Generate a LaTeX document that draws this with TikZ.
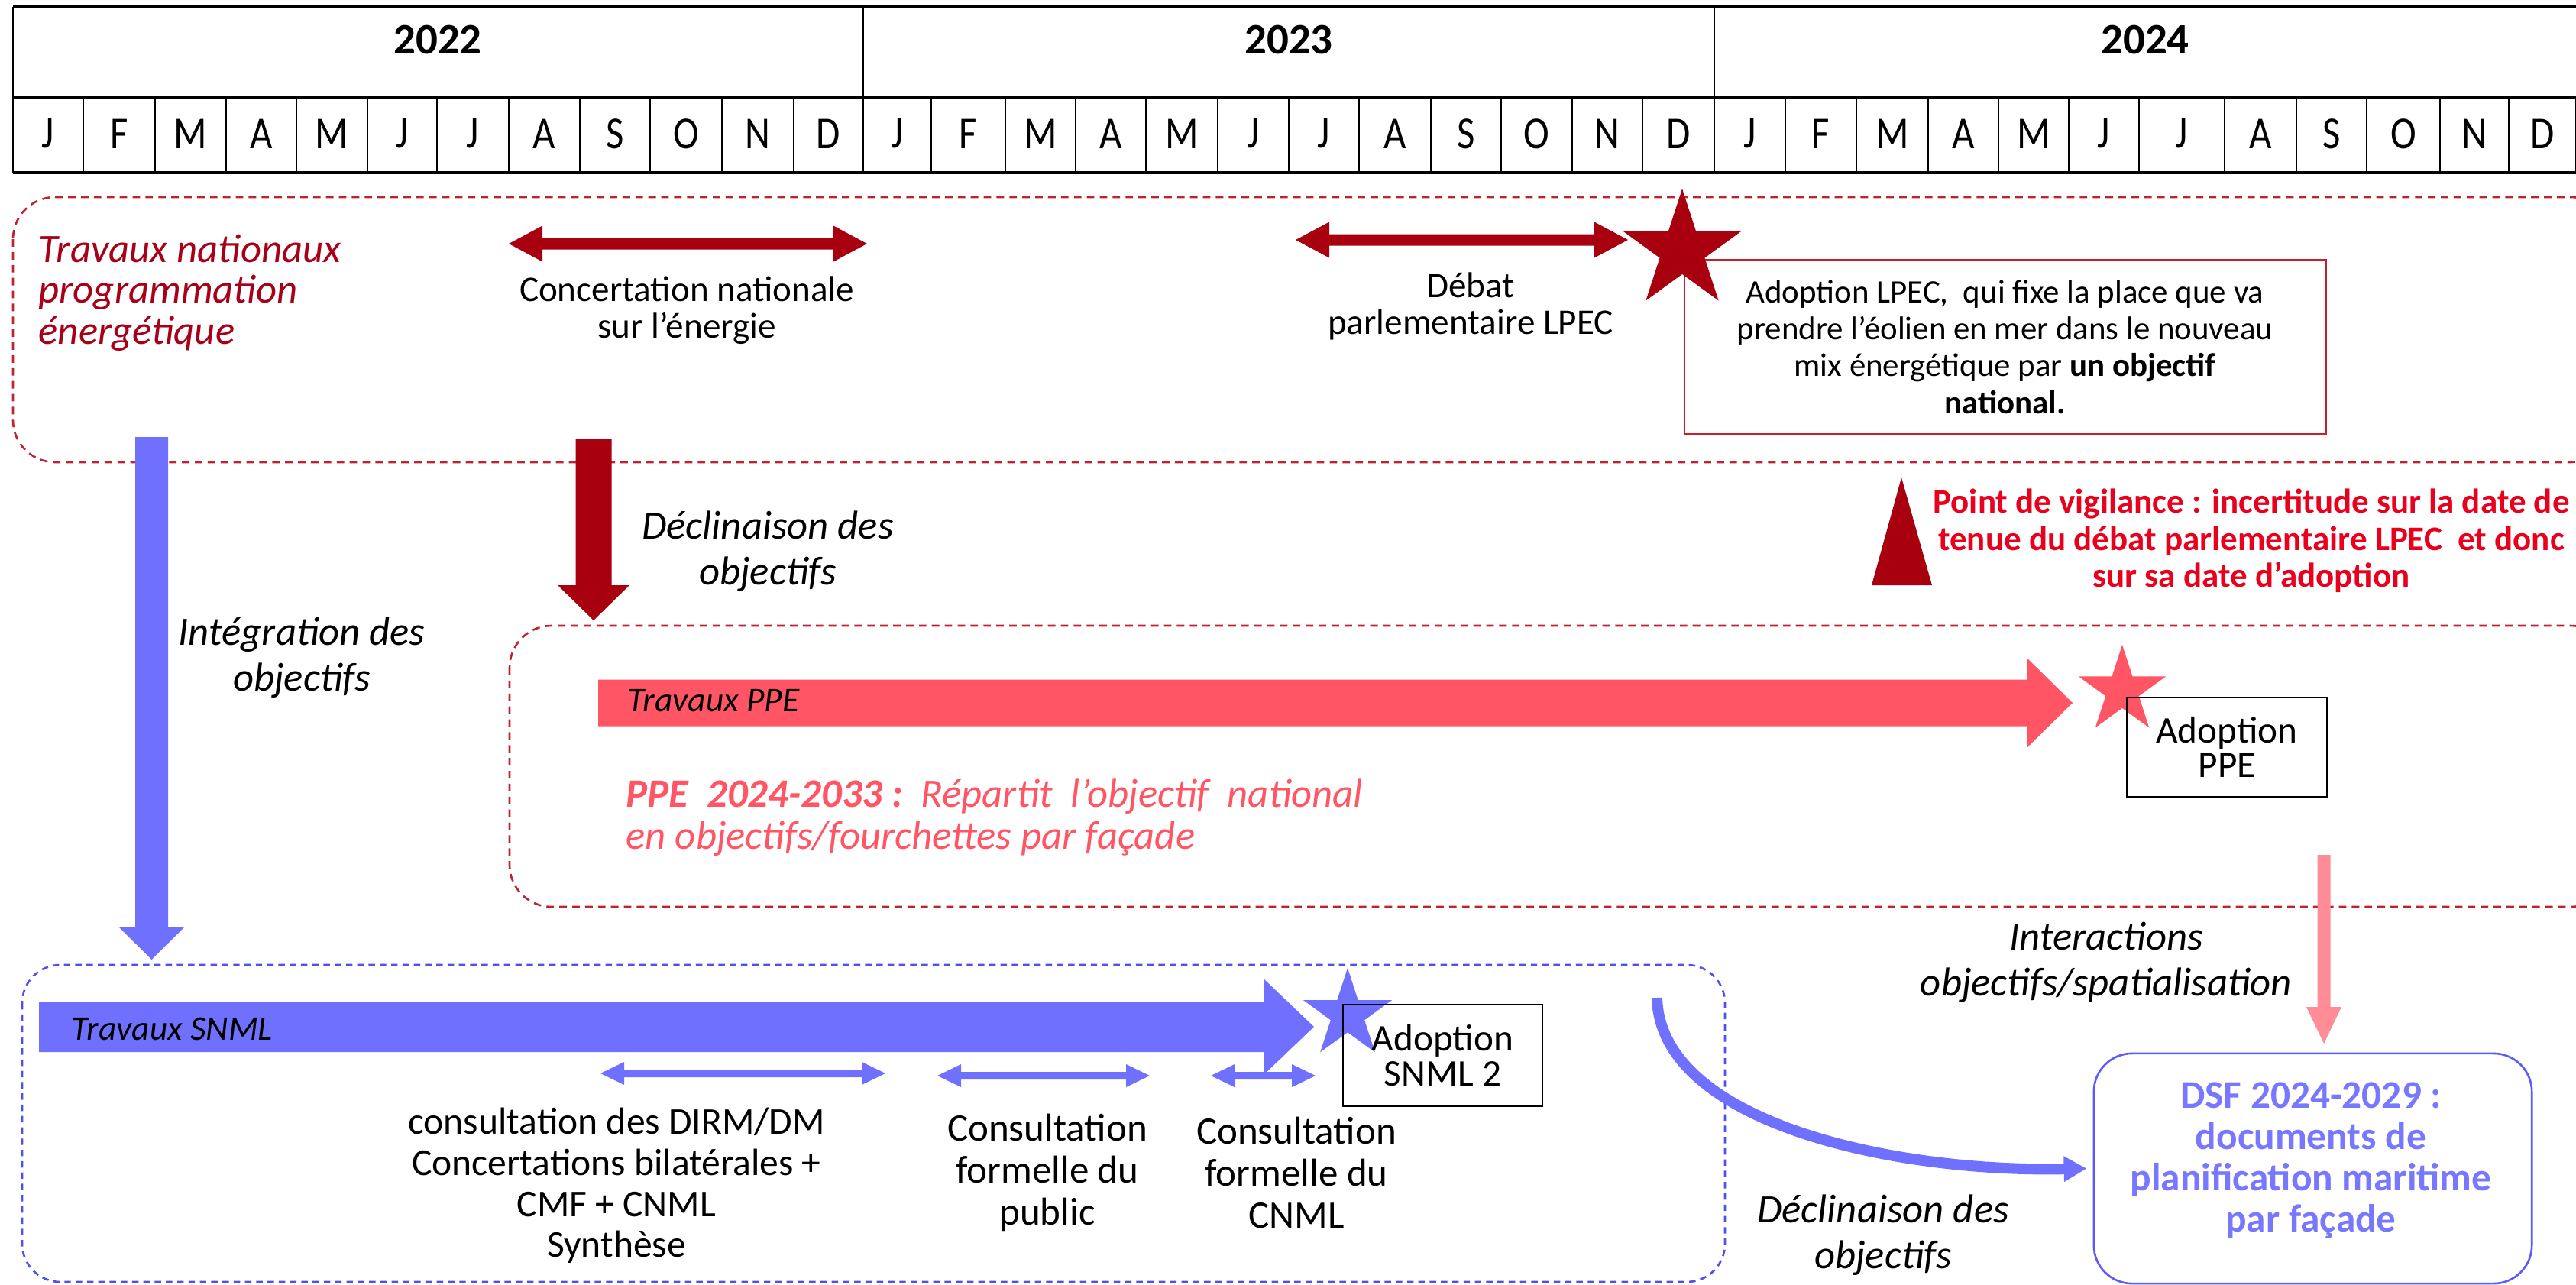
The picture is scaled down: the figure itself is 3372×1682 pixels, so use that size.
\documentclass[tikz,border=0pt]{standalone}
\usepackage{fontspec}
\setmainfont{Carlito}
\newfontfamily\monfont[FakeStretch=0.85]{Carlito}
\usetikzlibrary{arrows.meta}
\definecolor{dkred}{RGB}{168,0,14}
\definecolor{dashred}{RGB}{190,35,50}
\definecolor{titred}{RGB}{168,0,24}
\definecolor{vigred}{RGB}{232,0,28}
\definecolor{lpecred}{RGB}{200,30,40}
\definecolor{salmon}{RGB}{255,85,100}
\definecolor{snblue}{RGB}{112,112,255}
\definecolor{bldash}{RGB}{80,80,240}
\definecolor{pinkc}{RGB}{255,140,150}
\definecolor{dsftxt}{RGB}{120,120,255}
\definecolor{dsfborder}{RGB}{90,90,255}
\newcommand\myfs[2]{\fontsize{#1}{#2}\selectfont}
% horizontal double block arrow: x1 x2 y shafthalf headhalf headlen color
\newcommand\hdarrow[7]{%
 \fill[#7] (#1,#3) -- ({#1+#6},{#3-#5}) -- ({#1+#6},{#3-#4}) -- ({#2-#6},{#3-#4}) -- ({#2-#6},{#3-#5}) -- (#2,#3) -- ({#2-#6},{#3+#5}) -- ({#2-#6},{#3+#4}) -- ({#1+#6},{#3+#4}) -- ({#1+#6},{#3+#5}) -- cycle;}
% right block arrow: x1 headbase tip y shafthalf headhalf color
\newcommand\rarrow[7]{%
 \fill[#7] (#1,{#4-#5}) -- (#2,{#4-#5}) -- (#2,{#4-#6}) -- (#3,#4) -- (#2,{#4+#6}) -- (#2,{#4+#5}) -- (#1,{#4+#5}) -- cycle;}
% down block arrow: x ytop yheadbase ytip shafthalf headhalf color
\newcommand\darrow[7]{%
 \fill[#7] ({#1-#5},#2) -- ({#1+#5},#2) -- ({#1+#5},#3) -- ({#1+#6},#3) -- (#1,#4) -- ({#1-#6},#3) -- ({#1-#5},#3) -- cycle;}
% five-pointed star: cx cy R color
\newcommand\fivestar[4]{%
 \fill[#4] plot[samples at={0,1,...,9}, variable=\k] ({#1+ifthenelse(mod(\k,2)==0,1,0.382)*#3*cos(-90+36*\k)},{#2+ifthenelse(mod(\k,2)==0,1,0.382)*#3*sin(-90+36*\k)}) -- cycle;}
\begin{document}
\begin{tikzpicture}[x=0.01cm,y=-0.01cm,
  hl/.style={line width=1.2pt, draw=black},
  vl/.style={line width=0.8pt, draw=black},
  yr/.style={inner sep=0pt, font=\myfs{16.2}{18}\bfseries},
  mon/.style={inner sep=0pt, font=\monfont\myfs{17}{18}},
  reddash/.style={draw=dashred, line width=0.75pt, dash pattern=on 2.8pt off 2pt},
  bluedash/.style={draw=bldash, line width=0.75pt, dash pattern=on 2.4pt off 1.8pt},
  lbl/.style={inner sep=0pt, align=center, font=\myfs{13.4}{13.6}},
  ital/.style={inner sep=0pt, align=center, font=\myfs{15}{17}\itshape},
  barlbl/.style={inner sep=0pt, anchor=west, font=\myfs{12.9}{14}\itshape},
  abox/.style={draw=black, line width=0.7pt, inner sep=0pt, align=center, font=\myfs{14}{13}},
  cons/.style={inner sep=0pt, align=center, font=\myfs{14.5}{15.6}},
]
\useasboundingbox (0,0) rectangle (3372,1682);
\clip (0,0) rectangle (3372,1682);
\fill[white] (0,0) rectangle (3372,1682);

% ---------- header ----------
\draw[hl] (17,9) -- (3390,9);
\draw[hl] (17,128) -- (3390,128);
\draw[hl] (17,226) -- (3390,226);
\draw[vl] (17,9) -- (17,226);
\draw[vl] (1130,9) -- (1130,226);
\draw[vl] (2244,9) -- (2244,226);
\node[yr] (y22) at (573,52) {2022};
\node[yr] (y23) at (1687,52) {2023};
\node[yr] (y24) at (2808,52) {2024};
\foreach \a/\b/\m [count=\i] in {17/109/J,109/203/F,203/296/M,296/388/A,388/481/M,481/572/J,572/666/J,666/759/A,759/851/S,851/945/O,945/1039/N,1039/1130/D,
 1130/1219/J,1219/1316/F,1316/1408/M,1408/1500/A,1500/1594/M,1594/1687/J,1687/1779/J,1779/1873/A,1873/1965/S,1965/2058/O,2058/2150/N,2150/2244/D,
 2244/2337/J,2337/2430/F,2430/2524/M,2524/2616/A,2616/2708/M,2708/2800/J,2800/2912/J,2912/3006/A,3006/3098/S,3098/3194/O,3194/3284/N,3284/3372/D}
 {\draw[vl] (\b,128) -- (\b,226);
  \node[mon] (m\i) at ({(\a+\b)/2},175) {\m};}

% ---------- dashed frames ----------
\draw[reddash, rounded corners=0.55cm] (17,258) rectangle (3420,605);
\draw[reddash, rounded corners=0.55cm] (667,819) rectangle (3420,1187);
\draw[bluedash, rounded corners=0.5cm] (29,1263) rectangle (2258,1678);

% ---------- national works ----------
\node[inner sep=0pt, anchor=west, align=left, text=titred, font=\myfs{15}{15.2}\itshape] (tnat) at (50,383) {Travaux nationaux\\programmation\\énergétique};
\hdarrow{666}{1135}{319}{7.5}{23.5}{44}{dkred}
\node[lbl] (conc) at (899,406) {Concertation nationale\\sur l’énergie};
\hdarrow{1696}{2131}{314}{7.5}{23.5}{44}{dkred}
\node[lbl] (debat) at (1925,401) {Débat\\parlementaire LPEC};
\node[draw=lpecred, line width=0.7pt, minimum width=8.39cm, minimum height=2.28cm, inner sep=0pt, align=center, font=\myfs{12.2}{13.7}] (lpec) at (2624.5,454)
 {Adoption LPEC,\ \ qui fixe la place que va\\prendre l’éolien en mer dans le nouveau\\mix énergétique par \textbf{un objectif}\\\textbf{national.}};
\fivestar{2202}{328}{81}{dkred}
\fill[dkred] (2489,625) -- (2529,766) -- (2450,766) -- cycle;
\node[inner sep=0pt, align=center, text=vigred, font=\myfs{12.8}{13.8}\bfseries] (vig) at (2947,708)
 {Point de vigilance : incertitude sur la date de\\tenue du débat parlementaire LPEC\ \ et donc\\sur sa date d’adoption};

% ---------- vertical links ----------
\darrow{777}{575}{766}{812}{23.5}{47}{dkred}
\node[ital] (decl1) at (1005,722) {Déclinaison des\\objectifs};
\darrow{198.5}{572}{1213}{1256}{21.5}{43.5}{snblue}
\node[ital] (integ) at (395,861) {Intégration des\\objectifs};

% ---------- PPE ----------
\rarrow{783}{2653}{2713}{920}{30.5}{59}{salmon}
\node[barlbl] (tppe) at (821,917) {Travaux PPE};
\fivestar{2778}{904}{60}{salmon}
\node[abox, minimum width=2.62cm, minimum height=1.30cm] (appe) at (2915,978) {Adoption\\PPE};
\node[inner sep=0pt, anchor=west, align=left, text=salmon, font=\myfs{15}{15.6}\itshape] (ppetxt) at (819,1070)
 {\textbf{PPE\ \ 2024-2033 :}\ \ Répartit\ \ l’objectif\ \ national\\en objectifs/fourchettes par façade};

% ---------- SNML ----------
\rarrow{51}{1654}{1720}{1344}{33}{63}{snblue}
\node[barlbl] (tsnml) at (93,1347) {Travaux SNML};
\fivestar{1764}{1328}{61}{snblue}
\node[abox, minimum width=2.61cm, minimum height=1.33cm] (asnml) at (1888.5,1381.5) {Adoption\\SNML 2};
\hdarrow{786}{1159}{1405}{5}{15}{31}{snblue}
\hdarrow{1227}{1505}{1408}{5}{15}{31}{snblue}
\hdarrow{1585}{1722}{1408}{5}{15}{31}{snblue}
\node[inner sep=0pt, align=center, font=\myfs{14.1}{15.3}] (cdirm) at (807,1552) {consultation des DIRM/DM\\Concertations bilatérales +\\CMF + CNML\\Synthèse};
\node[cons] (cpub) at (1371,1535) {Consultation\\formelle du\\public};
\node[cons] (ccnml) at (1697,1535) {Consultation\\formelle du\\CNML};

% ---------- DSF ----------
\node[draw=dsfborder, line width=0.75pt, rounded corners=0.5cm, minimum width=5.73cm, minimum height=3.01cm, inner sep=0pt] (dsf) at (3027.5,1529.5) {};
\node[inner sep=0pt, align=center, text=dsftxt, font=\myfs{14.6}{15.3}\bfseries] (dsftext) at (3025,1519) {DSF 2024-2029 :\\documents de\\planification maritime\\par façade};
\coordinate (pinkS) at (3042,1119);
\darrow{3042}{1119}{1318}{1366}{8.5}{23}{pinkc}
\node[ital] (inter) at (2757,1259.5) {Interactions\\objectifs/spatialisation};
\coordinate (curveS) at (2169,1306);
\draw[snblue, line width=4pt, -{Triangle[length=8.5pt,width=9pt]}] (curveS) .. controls (2173,1470) and (2480,1535) .. ([xshift=-0.08cm]dsf.west);
\node[ital] (decl2) at (2465,1617) {Déclinaison des\\objectifs};
\end{tikzpicture}
\end{document}
